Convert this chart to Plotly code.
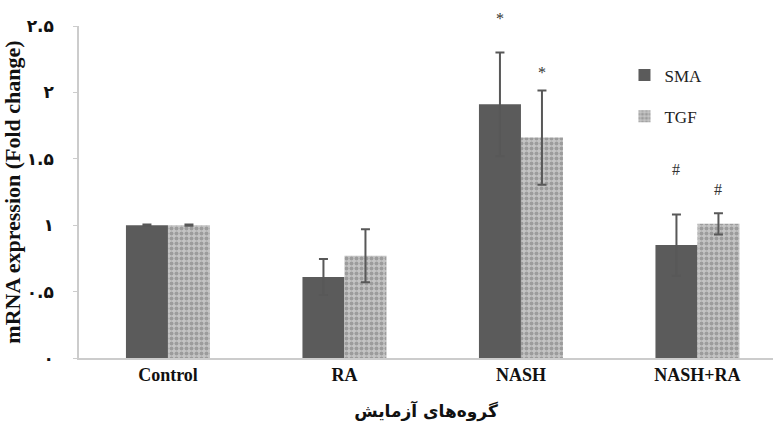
import plotly.graph_objects as go

categories = ["Control", "RA", "NASH", "NASH+RA"]
sma = [1.00, 0.61, 1.91, 0.85]
sma_err = [0.005, 0.135, 0.39, 0.23]
tgf = [1.00, 0.77, 1.66, 1.01]
tgf_err = [0.005, 0.20, 0.355, 0.08]
ytick_vals = [0, 0.5, 1, 1.5, 2, 2.5]
ytick_text = ["۰", "۰.۵", "۱", "۱.۵", "۲", "۲.۵"]
# significance marks: (category index, series side, y value, text)
marks = [(2, -1, 2.56, "*"), (2, 1, 2.15, "*"), (3, -1, 1.42, "#"), (3, 1, 1.27, "#")]

xs = list(range(len(categories)))
serif = "Liberation Serif, Times New Roman, serif"
ymax = 2.5

fig = go.Figure()
fig.add_trace(go.Bar(
    x=xs, y=sma, name="SMA", legendgroup="a",
    marker=dict(color="#5b5b5b", line=dict(width=0)),
    error_y=dict(type="data", array=sma_err, color="#585858", thickness=2, width=4.5),
))
fig.add_trace(go.Bar(
    x=xs, y=tgf, name="TGF", legendgroup="b",
    marker=dict(color="#b4b4b4", line=dict(width=0),
                pattern=dict(shape=".", fgcolor="#737373", bgcolor="#c4c4c4", size=5, solidity=0.5)),
    error_y=dict(type="data", array=tgf_err, color="#585858", thickness=2, width=4.5),
))

bw = 0.238
for ci, side, yv, txt in marks:
    fig.add_annotation(x=ci + side * bw / 2, y=yv / ymax, text=txt, showarrow=False,
                       yshift=10 if txt == "*" else 0,
                       font=dict(family=serif, size=16, color="#333333"), xref="x", yref="paper")

fig.update_layout(
    width=773, height=432,
    margin=dict(l=79, r=0, t=26, b=74),
    plot_bgcolor="white", paper_bgcolor="white",
    barmode="group", bargap=0.524, bargroupgap=0,
    showlegend=True,
    legend=dict(x=0.786, y=0.905, xanchor="left", yanchor="top", tracegroupgap=16,
                font=dict(family=serif, size=17, color="#222222"), bgcolor="rgba(0,0,0,0)"),
    xaxis=dict(range=[-0.504, 3.428], tickmode="array", tickvals=xs, ticktext=categories,
               showline=True, linecolor="#cccccc", linewidth=1.5, ticks="", showgrid=False,
               zeroline=False, automargin=False,
               tickfont=dict(family=serif, size=18, color="#111111", weight="bold"),
               title=dict(text="گروه‌های آزمایش", standoff=21,
                          font=dict(family="DejaVu Sans", size=17, color="#111111", weight="bold"))),
    yaxis=dict(range=[0, ymax], tickmode="array", tickvals=ytick_vals, ticktext=ytick_text,
               showline=True, linecolor="#cccccc", linewidth=1.5, ticks="outside", ticklen=4,
               tickcolor="#cccccc", showgrid=False, zeroline=False, automargin=False,
               ticklabelstandoff=16,
               tickfont=dict(family="DejaVu Sans", size=17, color="#111111", weight="bold"),
               title=dict(text="mRNA expression (Fold change)", standoff=8,
                          font=dict(family=serif, size=22, color="#111111", weight="bold"))),
)

fig.write_html("out.html", config={"displayModeBar": False},
               post_script="document.body.style.margin='0';")
